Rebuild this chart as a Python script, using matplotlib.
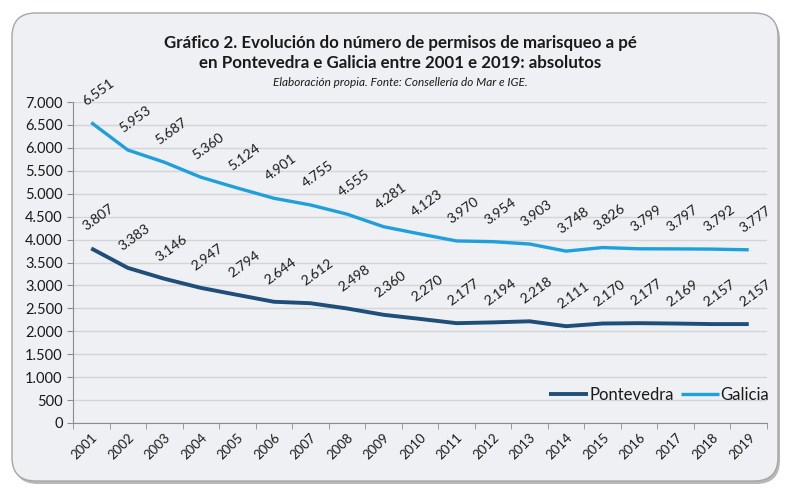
import matplotlib.pyplot as plt
import numpy as np
from matplotlib.patches import FancyBboxPatch
from matplotlib.ticker import FuncFormatter, FixedLocator

years = [str(y) for y in range(2001, 2020)]
pontevedra = [3807, 3383, 3146, 2947, 2794, 2644, 2612, 2498, 2360, 2270,
              2177, 2194, 2218, 2111, 2170, 2177, 2169, 2157, 2157]
galicia = [6551, 5953, 5687, 5360, 5124, 4901, 4755, 4555, 4281, 4123,
           3970, 3954, 3903, 3748, 3826, 3799, 3797, 3792, 3777]

c_pont = '#1f4e79'
c_gal = '#1ea0dc'
txt = '#1a1a1a'
plt.rcParams['font.family'] = ['Lato', 'DejaVu Sans']

fig = plt.figure(figsize=(7.89, 4.95), dpi=100)
fig.patch.set_facecolor('white')

# rounded panel with shadow
W, H = 789, 495
shadow = FancyBboxPatch((14 / W, 11 / H), 766 / W, 468 / H, transform=fig.transFigure,
                        boxstyle='round,pad=0,rounding_size=0.03', fc='#b8b8b8', ec='none',
                        zorder=-2, mutation_aspect=W / H)
panel = FancyBboxPatch((12 / W, 14 / H), 766 / W, 468 / H, transform=fig.transFigure,
                       boxstyle='round,pad=0,rounding_size=0.03', fc='#eef0f4', ec='#a6a6a6',
                       lw=1.0, zorder=-1, mutation_aspect=W / H)
fig.patches.extend([shadow, panel])

ax = fig.add_axes([73 / W, 1 - 423 / H, (767 - 73) / W, (423 - 102) / H])
ax.set_facecolor('none')
x = np.arange(len(years))
ax.plot(x, pontevedra, color=c_pont, lw=2.8, label='Pontevedra', solid_capstyle='butt')
ax.plot(x, galicia, color=c_gal, lw=2.4, label='Galicia', solid_capstyle='butt')

for xi, v in zip(x, pontevedra):
    ax.annotate(f'{v:,}'.replace(',', '.'), (xi, v), xytext=(5, 22), textcoords='offset points',
                ha='center', va='center', rotation=36, fontsize=10, color=txt)
for xi, v in zip(x, galicia):
    ax.annotate(f'{v:,}'.replace(',', '.'), (xi, v), xytext=(5, 22), textcoords='offset points',
                ha='center', va='center', rotation=36, fontsize=10, color=txt)

ax.set_xlim(-0.5, len(years) - 0.5)
ax.set_ylim(0, 7000)
ax.set_yticks(np.arange(0, 7001, 500))
ax.yaxis.set_major_formatter(FuncFormatter(lambda v, p: f'{int(v):,}'.replace(',', '.')))
ax.grid(axis='y', color='#d4d4d4', lw=1.0)
ax.set_axisbelow(True)

ax.set_xticks(x)
ax.set_xticklabels(years, rotation=45, ha='right', rotation_mode='anchor', fontsize=9.5,
                   color=txt)
ax.xaxis.set_minor_locator(FixedLocator(np.arange(-0.5, len(years), 1)))
ax.tick_params(axis='x', which='major', length=0, pad=6)
ax.tick_params(axis='x', which='minor', length=4, color='#8c8c8c')
ax.tick_params(axis='y', length=4, color='#8c8c8c', labelsize=10.5, labelcolor=txt)
for s in ['top', 'right']:
    ax.spines[s].set_visible(False)
ax.spines['left'].set_color('#8c8c8c')
ax.spines['bottom'].set_color('#8c8c8c')

leg = ax.legend(loc='lower right', bbox_to_anchor=(1.025, 0.015), ncol=2, frameon=False,
                fontsize=12, handlelength=2.3, handletextpad=0.1, columnspacing=0.4,
                labelcolor=txt)

fig.text(400 / W, 1 - 43 / H, 'Gráfico 2. Evolución do número de permisos de marisqueo a pé',
         ha='center', va='center', fontsize=12.2, fontweight='bold', color=txt)
fig.text(400 / W, 1 - 63 / H, 'en Pontevedra e Galicia entre 2001 e 2019: absolutos',
         ha='center', va='center', fontsize=12.2, fontweight='bold', color=txt)
fig.text(400 / W, 1 - 82 / H, 'Elaboración propia. Fonte: Consellería do Mar e IGE.',
         ha='center', va='center', fontsize=8.5, style='italic', color=txt)

fig.savefig('out.png', dpi=100)
